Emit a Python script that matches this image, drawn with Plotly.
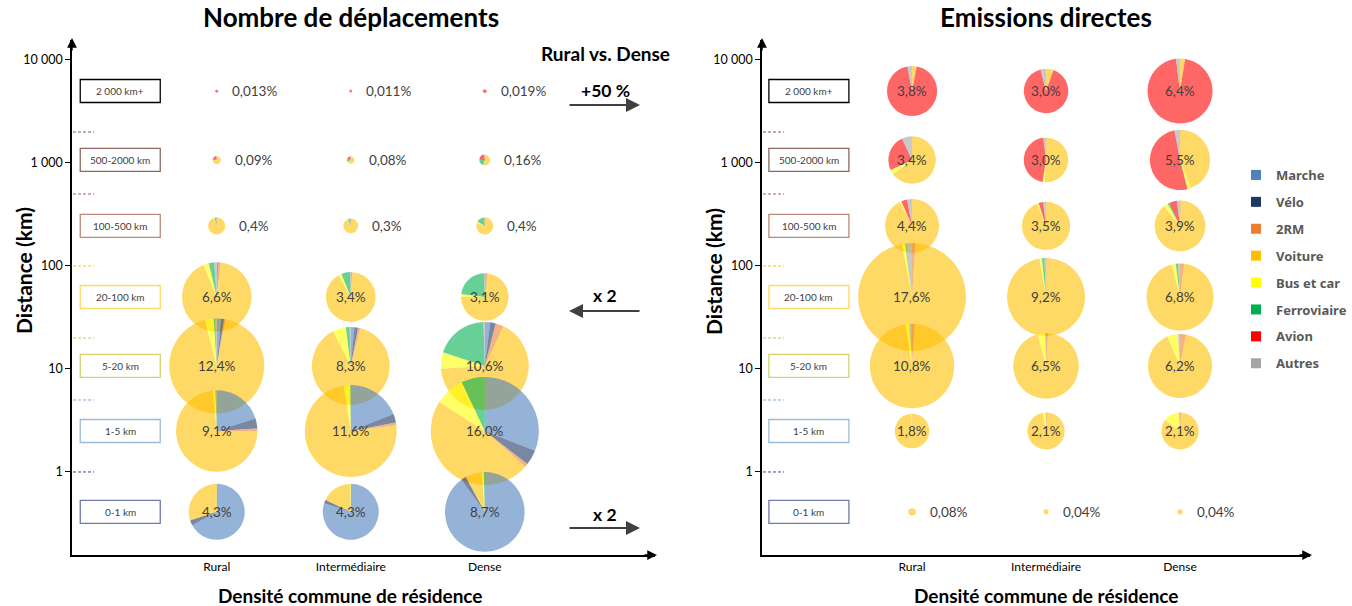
import math
import plotly.graph_objects as go

FW, FH = 1352, 606

# ---------------- data ----------------
modes = ['Marche', 'Vélo', '2RM', 'Voiture', 'Bus et car', 'Ferroviaire', 'Avion', 'Autres']
mode_colors = ['#4F81BD', '#1F3864', '#ED7D31', '#FFC000', '#FFFF00', '#00B050', '#FF0000', '#A5A5A5']
densities = ['Rural', 'Intermédiaire', 'Dense']
bands = ['2 000 km+', '500-2000 km', '100-500 km', '20-100 km', '5-20 km', '1-5 km', '0-1 km']
band_mid_km = [5000, 1070, 245, 50, 10.7, 2.5, 0.41]
band_limits_km = [2000, 500, 100, 20, 5, 1]
band_colors = ['#000000', '#8C6A62', '#B98A74', '#FFD966', '#D4D468', '#9DBAD6', '#6F7AAB']
limit_colors = ['#8C5A4A', '#A06A58', '#FFC000', '#C8C84A', '#8AAAD0', '#3A4A98']
y_tickvals = [1, 10, 100, 1000, 10000]
y_ticktext = ['1', '10', '100', '1 000', '10 000']

# share (%) of each band x density cell in the panel total
trips_total = [[0.013, 0.011, 0.019], [0.09, 0.08, 0.16], [0.4, 0.3, 0.4],
               [6.6, 3.4, 3.1], [12.4, 8.3, 10.6], [9.1, 11.6, 16.0], [4.3, 4.3, 8.7]]
emis_total = [[3.8, 3.0, 6.4], [3.4, 3.0, 5.5], [4.4, 3.5, 3.9],
              [17.6, 9.2, 6.8], [10.8, 6.5, 6.2], [1.8, 2.1, 2.1], [0.08, 0.04, 0.04]]

# modal mix inside each pie (order of `modes`), per band then density
trips_mix = [
    [[0, 0, 0, 8, 0, 4, 86, 2], [0, 0, 0, 8, 0, 4, 86, 2], [0, 0, 0, 6, 0, 6, 86, 2]],
    [[0, 0, 0, 73, 1, 6, 18, 2], [0, 0, 0, 66, 1, 14, 17, 2], [0, 0, 0, 54, 1, 20, 23, 2]],
    [[0, 0, 0, 95, 1, 3, 0.3, 0.7], [0, 0, 0, 93, 1, 5, 0.3, 0.7], [0, 0, 0.5, 80, 3, 15, 0.5, 1]],
    [[0.5, 0.3, 1, 92, 2.5, 2.5, 0, 1.2], [0.2, 0.2, 0.5, 91, 2, 5.5, 0, 0.6], [0.3, 0.2, 1.5, 73, 2, 22.5, 0, 0.5]],
    [[1.5, 1, 0.5, 93, 3, 0.5, 0, 0.5], [1.5, 1.5, 1, 88.5, 5.5, 1.5, 0, 0.5], [2, 2, 3, 67, 6, 19.5, 0, 0.5]],
    [[20, 4, 1, 73.5, 1, 0.3, 0, 0.2], [19, 3, 1, 74.5, 2.3, 0.2, 0, 0], [31, 4.5, 1, 47.5, 9, 7, 0, 0]],
    [[67, 3, 0.5, 29.5, 0, 0, 0, 0], [80, 2, 0.3, 17.2, 0.5, 0, 0, 0], [90, 2, 0.3, 6.5, 0.8, 0.4, 0, 0]],
]
emis_mix = [
    [[0, 0, 0, 3, 0, 0, 94, 3], [0, 0, 0, 5.5, 0, 0, 90.5, 4], [0, 0, 0, 2.5, 0, 0, 95.5, 2]],
    [[0, 0, 0, 65, 3, 0, 25, 7], [0, 0, 0, 51, 1.5, 0, 45.5, 2], [0, 0, 0, 44, 2, 0, 51, 3]],
    [[0, 0, 0, 92.5, 1, 0, 3.5, 3], [0, 0, 0, 94, 1, 0, 3, 2], [0, 0, 0.5, 88.5, 3, 1, 5, 2]],
    [[0, 0, 1, 96, 1, 0.3, 0, 1.7], [0, 0, 0.3, 97, 1, 1, 0, 0.7], [0, 0, 2, 94, 2, 1, 0, 1]],
    [[0, 0, 1, 96.5, 1.5, 0, 0, 1], [0, 0, 1, 95, 3.5, 0, 0, 0.5], [0, 0, 3, 90.5, 5.5, 0, 0, 1]],
    [[0, 0, 0.5, 99, 0.5, 0, 0, 0], [0, 0, 1, 96, 3, 0, 0, 0], [0, 0, 1, 84, 14, 0, 0, 1]],
    [[0, 0, 0, 100, 0, 0, 0, 0], [0, 0, 0, 100, 0, 0, 0, 0], [0, 0, 0, 100, 0, 0, 0, 0]],
]

# ---------------- layout geometry (page pixels) ----------------
FONT = 'Lato'
Y_PX = (40, 555)                 # top, bottom of the y axes
Y_RANGE = (-0.806, 4.194)        # log10 range
panels = [
    dict(name='Nombre de déplacements', xdom=(72, 655), xrange=(-1.08, 3.27), box_x=-0.72,
         totals=trips_total, mixes=trips_mix, k=27.0, xa='x', ya='y'),
    dict(name='Emissions directes', xdom=(762, 1310), xrange=(-1.12, 2.97), box_x=-0.77,
         totals=emis_total, mixes=emis_mix, k=25.7, xa='x2', ya='y2'),
]


def xpx(p, v):
    x0, x1 = p['xdom']
    r0, r1 = p['xrange']
    return x0 + (v - r0) / (r1 - r0) * (x1 - x0)


def ypx(v):
    lv = math.log10(v)
    return Y_PX[1] - (lv - Y_RANGE[0]) / (Y_RANGE[1] - Y_RANGE[0]) * (Y_PX[1] - Y_PX[0])


def px(x):
    return x / FW


def py(y):
    return 1 - y / FH


def rgba(hexc, a):
    h = hexc.lstrip('#')
    return 'rgba(%d,%d,%d,%.2f)' % (int(h[0:2], 16), int(h[2:4], 16), int(h[4:6], 16), a)


def text_ann(x, y, text, size, color='#404040', xanchor='center', bold=False, angle=0, family=FONT):
    return dict(x=px(x), y=py(y), xref='paper', yref='paper', text=('<b>%s</b>' % text) if bold else text,
                xanchor=xanchor, yanchor='middle', showarrow=False, textangle=angle,
                font=dict(family=family, size=size, color=color))


def arrow_ann(x, y, ax, ay, color, width, size):
    return dict(x=px(x), y=py(y), xref='paper', yref='paper', ax=ax, ay=ay, text='', showarrow=True,
                arrowhead=2, arrowsize=size, arrowwidth=width, arrowcolor=color, standoff=0)


pie_colors = [rgba(c, 0.6) for c in mode_colors]

fig = go.Figure()
annotations = []
shapes = []

for p in panels:
    # invisible trace so that the cartesian axes of this panel are drawn
    fig.add_trace(go.Scatter(x=[0], y=[1], mode='markers', marker=dict(opacity=0), showlegend=False,
                             hoverinfo='skip', xaxis=p['xa'], yaxis=p['ya']))
    for bi, band in enumerate(bands):
        cy = ypx(band_mid_km[bi])
        for di in range(len(densities)):
            val = p['totals'][bi][di]
            r = p['k'] * math.sqrt(val) / 2
            cx = xpx(p, di)
            fig.add_trace(go.Pie(
                values=p['mixes'][bi][di], labels=modes, sort=False, direction='clockwise',
                rotation=0, textinfo='none', hoverinfo='skip', showlegend=False,
                marker=dict(colors=pie_colors, line=dict(width=0)),
                domain=dict(x=[px(cx - r), px(cx + r)], y=[py(cy + r), py(cy - r)])))
            label = str(val).replace('.', ',') + '%'
            if r > 15:
                annotations.append(text_ann(cx, cy, label, 13.5))
            else:
                annotations.append(text_ann(cx + r + 12, cy, label, 13.5, xanchor='left'))
        # band label box
        bx = xpx(p, p['box_x'])
        shapes.append(dict(type='rect', xref='paper', yref='paper', x0=px(bx - 40), x1=px(bx + 40),
                           y0=py(cy + 11.5), y1=py(cy - 11.5), line=dict(color=band_colors[bi], width=1.3)))
        annotations.append(text_ann(bx, cy, band, 10))
    # dashed band limits on the y axis
    ax0 = p['xdom'][0]
    for li, lim in enumerate(band_limits_km):
        yy = ypx(lim)
        shapes.append(dict(type='line', xref='paper', yref='paper', x0=px(ax0 + 1), x1=px(ax0 + 22),
                           y0=py(yy), y1=py(yy), line=dict(color=limit_colors[li], width=1, dash='3px,2px')))
    # axis arrowheads
    annotations.append(arrow_ann(ax0, Y_PX[0] - 2, 0, 14, 'black', 1.5, 1.3))
    annotations.append(arrow_ann(p['xdom'][1] + 2, Y_PX[1], -14, 0, 'black', 1.5, 1.3))
    # titles
    cxm = xpx(p, 1)
    annotations.append(text_ann(cxm, 17, p['name'], 26, color='black', bold=True))
    annotations.append(text_ann(cxm, 595, 'Densité commune de résidence', 19, color='black', bold=True))
    annotations.append(text_ann(ax0 - 49, 271, 'Distance (km)', 21, color='black', bold=True, angle=-90))

# comparison annotations (left panel)
annotations.append(text_ann(605, 53, 'Rural vs. Dense', 19, color='black', bold=True))
for txt, ty, ay_px, head_x, tail_dx in [('+50 %', 90, 105, 640, -72), ('x 2', 295, 311, 569, 72),
                                        ('x 2', 514, 528, 640, -72)]:
    annotations.append(text_ann(605, ty, txt, 17.5, color='black', bold=True))
    annotations.append(arrow_ann(head_x, ay_px, tail_dx, 0, '#404040', 2, 1.4))

# legend entries
for m, c in zip(modes, mode_colors):
    fig.add_trace(go.Scatter(x=[None], y=[None], mode='markers', name=m, legendgroup=m,
                             marker=dict(symbol='square', size=10, color=c), xaxis='x2', yaxis='y2'))

axis_common = dict(showline=True, linecolor='black', linewidth=1.5, showgrid=False, zeroline=False, fixedrange=True)
layout = dict(
    width=FW, height=FH, margin=dict(l=0, r=0, t=0, b=0, pad=0), paper_bgcolor='white', plot_bgcolor='white',
    showlegend=True,
    legend=dict(x=px(1236), y=py(160), xanchor='left', yanchor='top', traceorder='grouped', tracegroupgap=7,
                bgcolor='rgba(0,0,0,0)', font=dict(family='Noto Sans', size=13, color='#595959', weight='bold')),
    annotations=annotations, shapes=shapes,
)
for p in panels:
    xk = 'xaxis' if p['xa'] == 'x' else 'xaxis2'
    yk = 'yaxis' if p['ya'] == 'y' else 'yaxis2'
    layout[xk] = dict(domain=[px(p['xdom'][0]), px(p['xdom'][1])], range=list(p['xrange']), anchor=p['ya'],
                      tickvals=[0, 1, 2], ticktext=densities, ticks='',
                      tickfont=dict(family=FONT, size=12, color='black'), **axis_common)
    layout[yk] = dict(domain=[py(Y_PX[1]), py(Y_PX[0])], range=list(Y_RANGE), type='log', anchor=p['xa'],
                      tickvals=y_tickvals, ticktext=y_ticktext, ticks='outside', ticklen=5, tickcolor='black',
                      tickwidth=1, tickfont=dict(family=FONT, size=12.5, color='black'), **axis_common)
fig.update_layout(**layout)
fig.write_html('out.html', config={'displayModeBar': False},
               post_script="document.body.style.margin='0px';document.body.style.overflow='hidden';")
